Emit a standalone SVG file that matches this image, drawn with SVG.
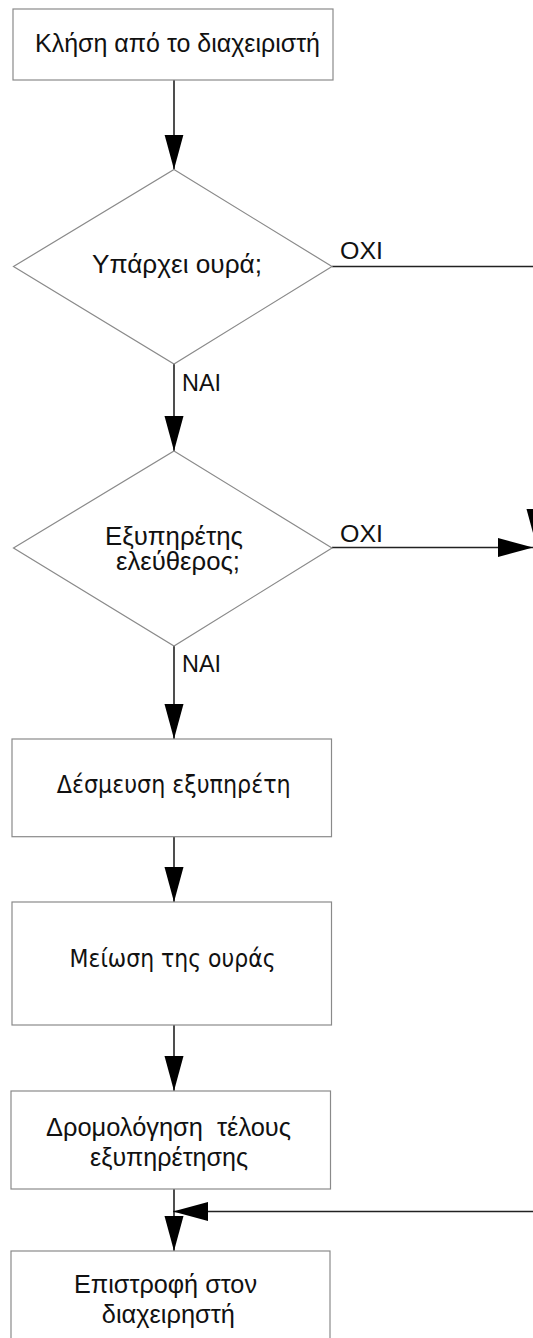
<svg xmlns="http://www.w3.org/2000/svg" width="533" height="1338" viewBox="0 0 533 1338">
  <style>
    .box { fill: #ffffff; stroke: #8a8a8a; stroke-width: 1.2; }
    .lbl { font-family: "Liberation Sans", Arial, sans-serif; font-size: 25px; fill: #111111; text-anchor: middle; }
    .lbl2 { font-family: "DejaVu Sans", Tahoma, sans-serif; font-size: 24px; fill: #111111; text-anchor: middle; }
    .tag { font-family: "Liberation Sans", Arial, sans-serif; font-size: 23.5px; fill: #111111; }
    .edge { fill: none; stroke: #222222; stroke-width: 1.6; }
    .head { fill: #000000; }
  </style>
  <defs>
    <marker id="arrow" markerUnits="userSpaceOnUse" markerWidth="36" markerHeight="20" refX="35" refY="9.5" orient="auto">
      <path class="head" d="M0,0 L35,9.5 L0,19 Z"/>
    </marker>
  </defs>

  <rect width="533" height="1338" fill="#ffffff"/>

  <!-- connectors -->
  <g id="connectors">
    <line class="edge" x1="174" y1="80" x2="174" y2="169.5" marker-end="url(#arrow)"/>
    <line class="edge" x1="174" y1="364" x2="174" y2="451" marker-end="url(#arrow)"/>
    <line class="edge" x1="174" y1="646" x2="174" y2="739" marker-end="url(#arrow)"/>
    <line class="edge" x1="174" y1="837" x2="174" y2="902" marker-end="url(#arrow)"/>
    <line class="edge" x1="174" y1="1025" x2="174" y2="1091" marker-end="url(#arrow)"/>
    <line class="edge" x1="174" y1="1189" x2="174" y2="1251" marker-end="url(#arrow)"/>
    <!-- ΟΧΙ from the first test, running off to the right and down -->
    <polyline class="edge" points="332,266.5 536,266.5 536,544" marker-end="url(#arrow)"/>
    <!-- ΟΧΙ from the second test -->
    <line class="edge" x1="332" y1="547.5" x2="533" y2="547.5" marker-end="url(#arrow)"/>
    <!-- return path joining above the last box -->
    <line class="edge" x1="560" y1="1211.5" x2="173" y2="1211.5" marker-end="url(#arrow)"/>
    <text class="tag" x="340" y="258.5" textLength="43" lengthAdjust="spacingAndGlyphs">ΟΧΙ</text>
    <text class="tag" x="182" y="391" textLength="39" lengthAdjust="spacingAndGlyphs">ΝΑΙ</text>
    <text class="tag" x="340" y="542" textLength="43" lengthAdjust="spacingAndGlyphs">ΟΧΙ</text>
    <text class="tag" x="182" y="671.5" textLength="39" lengthAdjust="spacingAndGlyphs">ΝΑΙ</text>
  </g>

  <g id="n-call">
    <rect class="box" x="13" y="9" width="320" height="71"/>
    <text class="lbl" x="177.5" y="52.3" textLength="285" lengthAdjust="spacingAndGlyphs">Κλήση από το διαχειριστή</text>
  </g>

  <g id="n-queue">
    <polygon class="box" points="174,169.5 332,266.5 174,364 13.5,266.5"/>
    <text class="lbl" x="177" y="273" textLength="170" lengthAdjust="spacingAndGlyphs">Υπάρχει ουρά;</text>
  </g>

  <g id="n-free">
    <polygon class="box" points="174,451 332,548 174,646 13.5,548"/>
    <text class="lbl" x="174" y="545" font-size="22" textLength="138" lengthAdjust="spacingAndGlyphs">Εξυπηρέτης</text>
    <text class="lbl" x="178" y="570" font-size="22" textLength="124" lengthAdjust="spacingAndGlyphs">ελεύθερος;</text>
  </g>

  <g id="n-reserve">
    <rect class="box" x="12" y="739" width="319.5" height="97.7"/>
    <text class="lbl2" x="173.7" y="792.5" textLength="234" lengthAdjust="spacingAndGlyphs">Δέσμευση εξυπηρέτη</text>
  </g>

  <g id="n-decrease">
    <rect class="box" x="12" y="902" width="319.5" height="123"/>
    <text class="lbl2" x="172.6" y="967" textLength="206" lengthAdjust="spacingAndGlyphs">Μείωση της ουράς</text>
  </g>

  <g id="n-schedule">
    <rect class="box" x="11" y="1091" width="319.5" height="98"/>
    <text class="lbl" x="168.5" y="1135.6" xml:space="preserve" textLength="245" lengthAdjust="spacingAndGlyphs">Δρομολόγηση  τέλους</text>
    <text class="lbl" x="169" y="1165.6" textLength="158" lengthAdjust="spacingAndGlyphs">εξυπηρέτησης</text>
  </g>

  <g id="n-return">
    <rect class="box" x="11" y="1251" width="319" height="100"/>
    <text class="lbl" x="165.5" y="1292.5" textLength="183" lengthAdjust="spacingAndGlyphs">Επιστροφή στον</text>
    <text class="lbl" x="168.3" y="1323" textLength="133" lengthAdjust="spacingAndGlyphs">διαχειρηστή</text>
  </g>
</svg>
